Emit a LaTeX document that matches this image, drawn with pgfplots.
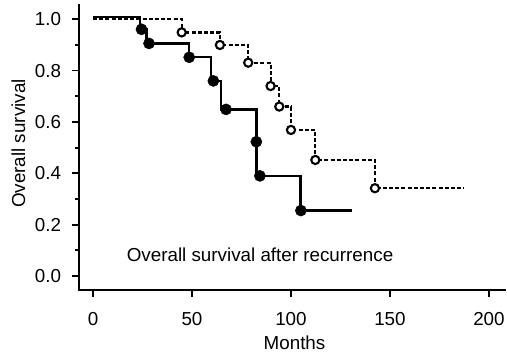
\documentclass[border=0pt]{standalone}
\usepackage{fontspec}
\setmainfont{Liberation Sans}
\usepackage{pgfplots}
\pgfplotsset{compat=1.18}
\newcommand{\f}{\fontsize{18.8pt}{22pt}\selectfont}
\begin{document}
\begin{tikzpicture}
\begin{axis}[
  name=ax,
  scale only axis, width=426pt, height=285pt,
  xmin=-7.07, xmax=208.1, ymin=-0.0545, ymax=1.0557,
  axis x line*=bottom, axis y line*=left,
  axis line style={line width=2.8pt, line cap=rect},
  xtick={0,50,100,150,200}, ytick={0,0.2,0.4,0.6,0.8,1.0},
  minor ytick={0.1,0.3,0.5,0.7,0.9},
  tick align=outside, major tick length=7pt, minor tick length=3.5pt,
  tick style={line width=1.7pt, black},
  every tick label/.append style={font=\f},
  /pgf/number format/assume math mode=true,
  yticklabel style={anchor=east, inner sep=0pt, xshift=-10.7pt,
    /pgf/number format/fixed, /pgf/number format/fixed zerofill, /pgf/number format/precision=1},
  xticklabel style={anchor=base, yshift=-28.3pt},
  xlabel={Months}, ylabel={Overall survival},
  every axis x label/.style={at={(axis description cs:0.5059,-0.2081)}, anchor=base, font=\f},
  every axis y label/.style={at={(axis description cs:-0.142,0.514)}, rotate=90, anchor=center, font=\f},
  clip=false,
]
% solid curve (filled circles)
\addplot[const plot, line width=2.3pt, black] coordinates {
  (0,1.01) (23.7,0.961) (27.1,0.906) (48.6,0.852) (59.6,0.760) (64.6,0.649)
  (82.6,0.390) (104.8,0.255) (130.6,0.255)};
% dashed curve (open circles)
\addplot[const plot, line width=2.3pt, black, dash pattern=on 4pt off 2.2pt] coordinates {
  (0,1.0) (44.8,0.949) (64.1,0.900) (78.4,0.831) (89.9,0.740) (94.1,0.660)
  (100,0.569) (112.3,0.452) (142.4,0.342) (187.4,0.342)};
\addplot[only marks, mark=*, mark size=5.6pt, mark options={fill=black, draw=black}] coordinates {
  (24.5,0.961) (28.3,0.906) (48.6,0.852) (60.8,0.760) (67.2,0.649)
  (82.5,0.523) (84.3,0.390) (105,0.255)};
\addplot[only marks, mark=*, mark size=4.1pt, mark options={fill=white, draw=black, line width=2.1pt, solid}] coordinates {
  (44.8,0.949) (64.1,0.900) (78.4,0.831) (89.7,0.740) (94.1,0.660)
  (100,0.569) (112.3,0.452) (142.4,0.342)};
\node[anchor=base west, inner sep=0pt, font=\f] at (axis cs:17,0.0557) {Overall survival after recurrence};
\end{axis}
\path (ax.south west) ++(-79pt,-66pt) coordinate (bl);
\pgfresetboundingbox
\useasboundingbox (bl) rectangle ++(507pt,356pt);
\end{tikzpicture}
\end{document}
